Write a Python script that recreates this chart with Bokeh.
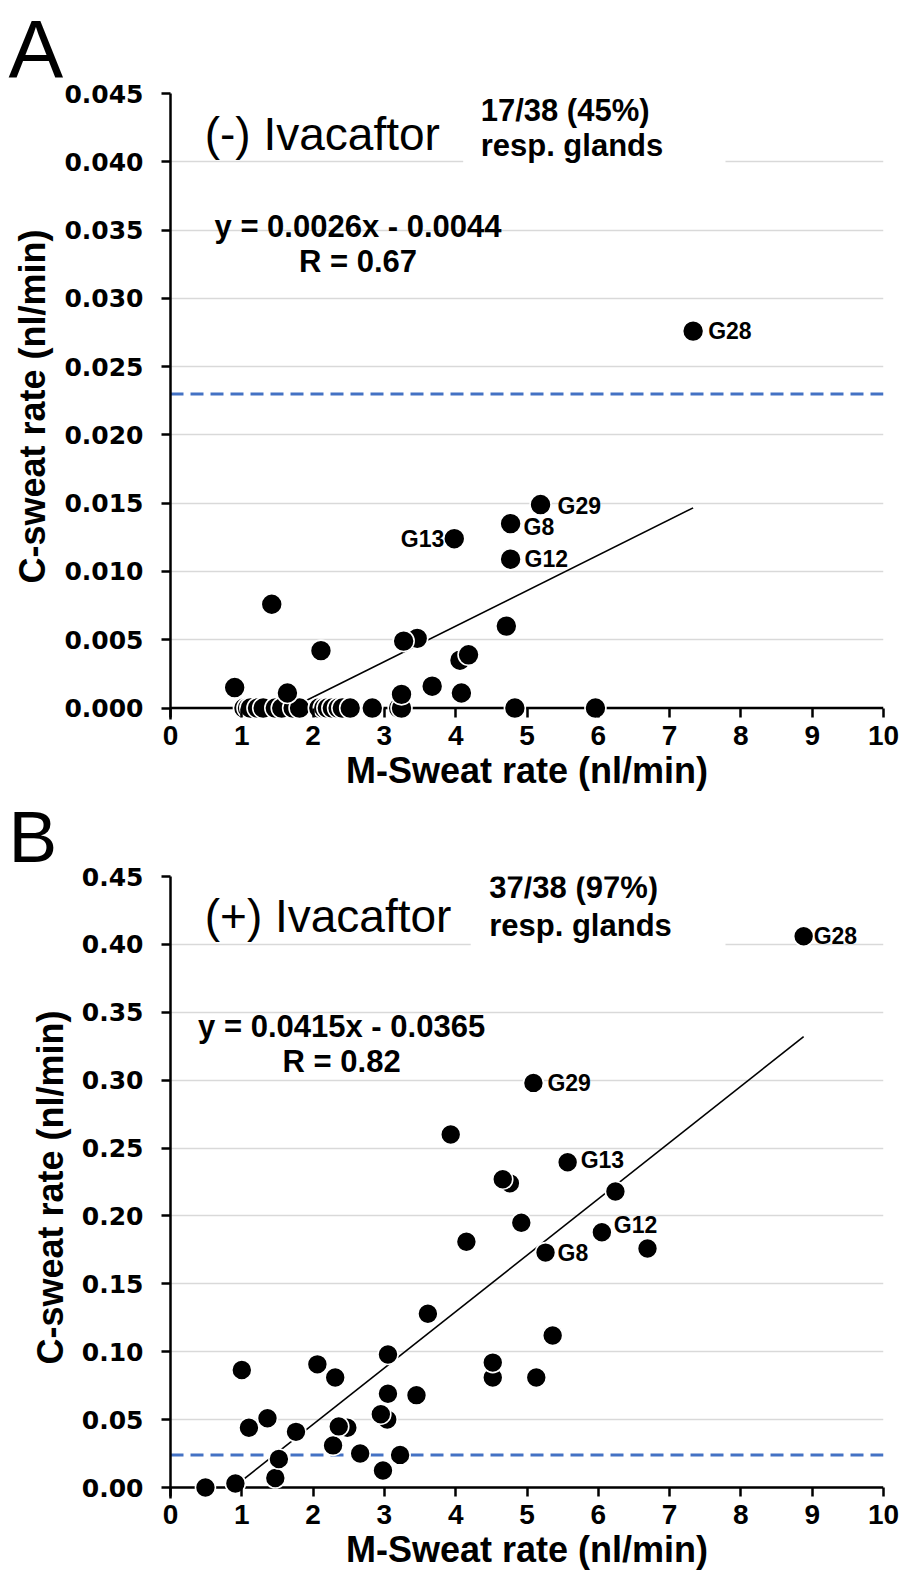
import numpy as np
from bokeh.plotting import figure
from bokeh.models import (ColumnDataSource, Span, Label, BoxAnnotation,
                          FixedTicker, PrintfTickFormatter, Range1d)
from bokeh.layouts import column
from bokeh.embed import file_html
from bokeh.resources import INLINE
from bokeh.core.properties import value

# ---------------- Panel A : (-) Ivacaftor ----------------
a_x = [1.03, 1.08, 1.12, 1.22, 1.30, 1.47, 1.56, 1.72, 1.81, 2.08, 2.15, 2.20,
       2.27, 2.35, 2.41, 2.52, 2.83, 3.20, 3.24, 4.83, 5.96,
       0.90, 1.42, 1.64, 2.11, 3.46, 3.27, 3.24, 3.67, 4.06, 4.18, 4.08, 4.71]
a_y = [0.0, 0.0, 0.0, 0.0, 0.0, 0.0, 0.0, 0.0, 0.0, 0.0, 0.0, 0.0,
       0.0, 0.0, 0.0, 0.0, 0.0, 0.0, 0.0, 0.0, 0.0,
       0.0015, 0.0076, 0.0011, 0.0042, 0.0051, 0.0049, 0.0010, 0.0016, 0.0035, 0.0039, 0.0011, 0.0060]
a_lab_names = ["G28", "G29", "G8", "G13", "G12"]
a_lab_x = [7.33, 5.19, 4.77, 3.98, 4.77]
a_lab_y = [0.0276, 0.0149, 0.0135, 0.0124, 0.0109]
a_slope, a_intercept, a_r = 0.0026, -0.0044, 0.67
a_thresh = 0.023
a_yticks = [0.0, 0.005, 0.010, 0.015, 0.020, 0.025, 0.030, 0.035, 0.040, 0.045]
a_count = "17/38 (45%)"

# ---------------- Panel B : (+) Ivacaftor ----------------
b_x = [0.49, 0.91, 1.47, 1.52, 1.00, 1.10, 1.36, 1.76, 2.06, 2.31, 2.28, 2.48,
       2.36, 2.66, 3.04, 2.95, 3.05, 3.05, 2.98, 3.22, 3.45, 3.61, 3.93, 4.15,
       4.52, 4.52, 4.76, 4.66, 4.92, 5.13, 5.36, 6.24, 6.69]
b_y = [0.0, 0.003, 0.007, 0.021, 0.0865, 0.044, 0.051, 0.041, 0.0907, 0.081, 0.031, 0.044,
       0.045, 0.025, 0.050, 0.054, 0.069, 0.098, 0.0125, 0.024, 0.068, 0.128, 0.260, 0.181,
       0.081, 0.092, 0.224, 0.227, 0.195, 0.081, 0.112, 0.218, 0.176]
b_lab_names = ["G28", "G29", "G13", "G12", "G8"]
b_lab_x = [8.88, 5.09, 5.57, 6.05, 5.26]
b_lab_y = [0.406, 0.298, 0.2395, 0.188, 0.173]
b_slope, b_intercept, b_r = 0.0415, -0.0365, 0.82
b_thresh = 0.024
b_yticks = [0.0, 0.05, 0.10, 0.15, 0.20, 0.25, 0.30, 0.35, 0.40, 0.45]
b_count = "37/38 (97%)"

x_ticks = list(range(0, 11))

FONT = "Liberation Sans"
BLUE = "#4472C4"
GRID = "#D9D9D9"


def make_panel(letter, title, count, xs, ys, lab_names, lab_x, lab_y, lab_dx, lab_dy,
               lab_right, slope, intercept, r, thresh, yticks, fmt, ypad, frame_h,
               top_border, letter_size, dot_size, ann):
    ymax = yticks[-1]
    p = figure(frame_width=713, frame_height=frame_h,
               x_range=Range1d(0, 10), y_range=Range1d(-ypad, ymax),
               output_backend="svg", toolbar_location=None,
               min_border_left=170, min_border_right=25,
               min_border_top=top_border, min_border_bottom=30,
               title=letter)
    p.outline_line_color = None
    p.background_fill_color = "white"

    # panel letter (figure title, placed above the y-axis title)
    p.title.align = "left"
    p.title.offset = -162
    p.title.text_font = FONT
    p.title.text_font_size = letter_size
    p.title.text_font_style = "normal"
    p.title.text_color = "black"
    p.title.standoff = 0
    p.title.vertical_align = "bottom"

    p.xgrid.visible = False
    p.ygrid.ticker = FixedTicker(ticks=yticks)
    p.ygrid.grid_line_color = GRID
    p.ygrid.grid_line_width = 1.5

    # y axis
    p.yaxis.ticker = FixedTicker(ticks=yticks)
    p.yaxis.formatter = PrintfTickFormatter(format=fmt)
    p.yaxis.major_label_text_font = "DejaVu Sans"
    p.yaxis.major_label_text_font_style = "bold"
    p.yaxis.major_label_text_font_size = "25px"
    p.yaxis.major_label_text_color = "black"
    p.yaxis.axis_line_width = 2.5
    p.yaxis.axis_line_color = "black"
    p.yaxis.major_tick_line_width = 2.5
    p.yaxis.major_tick_line_color = "black"
    p.yaxis.major_tick_out = 9
    p.yaxis.major_tick_in = 0
    p.yaxis.minor_tick_line_color = None
    p.yaxis.major_label_standoff = 18
    p.yaxis.axis_label = "C-sweat rate (nl/min)"
    p.yaxis.axis_label_text_font = FONT
    p.yaxis.axis_label_text_font_style = "bold"
    p.yaxis.axis_label_text_font_size = "36px"
    p.yaxis.axis_label_text_color = "black"
    p.yaxis.axis_label_standoff = 8

    # x axis (its line is drawn at y = 0 by a span)
    p.xaxis.ticker = FixedTicker(ticks=x_ticks)
    p.xaxis.axis_line_color = None
    p.xaxis.major_tick_in = 11
    p.xaxis.major_tick_out = -2
    p.xaxis.major_tick_line_width = 2.5
    p.xaxis.major_tick_line_color = "black"
    p.xaxis.minor_tick_line_color = None
    p.xaxis.major_label_text_font = FONT
    p.xaxis.major_label_text_font_style = "bold"
    p.xaxis.major_label_text_font_size = "28px"
    p.xaxis.major_label_text_color = "black"
    p.xaxis.major_label_standoff = 6
    p.xaxis.axis_label = "M-Sweat rate (nl/min)"
    p.xaxis.axis_label_text_font = FONT
    p.xaxis.axis_label_text_font_style = "bold"
    p.xaxis.axis_label_text_font_size = "36px"
    p.xaxis.axis_label_text_color = "black"
    p.xaxis.axis_label_standoff = 2

    p.add_layout(Span(location=0, dimension="width", line_color="black",
                      line_width=2.5, level="underlay"))
    p.add_layout(Span(location=thresh, dimension="width", line_color=BLUE,
                      line_width=3, line_dash="13 7", level="underlay"))

    # white box behind the responder count
    p.add_layout(BoxAnnotation(left=ann["box"][0], right=ann["box"][1],
                               bottom=ann["box"][2], top=ann["box"][3],
                               fill_color="white", fill_alpha=1.0, line_color=None))

    # trend line (clipped at y = 0, up to the largest x)
    allx = np.array(list(xs) + list(lab_x))
    x0 = -intercept / slope
    tx = np.array([x0, allx.max()])
    p.line(tx, slope * tx + intercept, line_color="black", line_width=1.6)

    # points
    px = list(xs) + list(lab_x)
    py = list(ys) + list(lab_y)
    p.scatter(px, py, size=dot_size, fill_color="black", line_color="white",
              line_width=1.6, marker="circle")

    # point labels
    left_idx = [i for i, n in enumerate(lab_names) if n not in lab_right]
    right_idx = [i for i, n in enumerate(lab_names) if n in lab_right]
    for idx, align in ((left_idx, "left"), (right_idx, "right")):
        if not idx:
            continue
        src = ColumnDataSource(dict(
            x=[lab_x[i] for i in idx], y=[lab_y[i] for i in idx],
            t=[lab_names[i] for i in idx],
            dx=[lab_dx[lab_names[i]] for i in idx],
            dy=[lab_dy[lab_names[i]] for i in idx]))
        p.text(x="x", y="y", text="t", source=src, x_offset="dx", y_offset="dy",
               text_font=value(FONT), text_font_style="bold",
               text_font_size=value("23px"), text_color="black",
               text_align=align, text_baseline="middle")

    def lab(x, y, text, size, style="bold", align="left"):
        p.add_layout(Label(x=x, y=y, text=text, text_font=FONT,
                           text_font_size=size, text_font_style=style,
                           text_color="black", text_align=align,
                           text_baseline="alphabetic"))

    lab(ann["title"][0], ann["title"][1], title, "46px", "normal")
    lab(ann["count"][0], ann["count"][1], count, "31px")
    lab(ann["count"][0], ann["count"][2], "resp. glands", "31px")
    sign = "-" if intercept < 0 else "+"
    eq = "y = %.4fx %s %.4f" % (slope, sign, abs(intercept))
    lab(ann["eq"][0], ann["eq"][1], eq, "31px", align="center")
    lab(ann["eq"][0], ann["eq"][2], "R = %.2f" % r, "31px", align="center")
    return p


pA = make_panel(
    "A", "(-) Ivacaftor", a_count, a_x, a_y, a_lab_names, a_lab_x, a_lab_y,
    lab_dx={"G28": 15, "G29": 17, "G8": 13, "G13": -10, "G12": 14},
    lab_dy={"G28": 0, "G29": 1, "G8": 3, "G13": 0, "G12": 0},
    lab_right=["G13"], slope=a_slope, intercept=a_intercept, r=a_r,
    thresh=a_thresh, yticks=a_yticks, fmt="%.3f", ypad=0.00084, frame_h=626,
    top_border=92, letter_size="82px", dot_size=21,
    ann={"title": (0.48, 0.04207),
         "count": (4.35, 0.04379, 0.04119), "eq": (2.63, 0.03526, 0.0327),
         "box": (4.105, 7.784, 0.0385, 0.047)})

pB = make_panel(
    "B", "(+) Ivacaftor", b_count, b_x, b_y, b_lab_names, b_lab_x, b_lab_y,
    lab_dx={"G28": 10, "G29": 14, "G13": 13, "G12": 12, "G8": 12},
    lab_dy={"G28": 0, "G29": 0, "G13": -2, "G12": -7, "G8": 0},
    lab_right=[], slope=b_slope, intercept=b_intercept, r=b_r,
    thresh=b_thresh, yticks=b_yticks, fmt="%.2f", ypad=0.0081, frame_h=622,
    top_border=82, letter_size="73px", dot_size=20,
    ann={"title": (0.48, 0.4206),
         "count": (4.47, 0.442, 0.4139), "eq": (2.40, 0.3395, 0.3141),
         "box": (4.21, 7.784, 0.385, 0.47)})

layout = column(pA, pB, spacing=0)
open("out.html", "w").write(file_html(layout, INLINE, "Ivacaftor sweat rates"))
